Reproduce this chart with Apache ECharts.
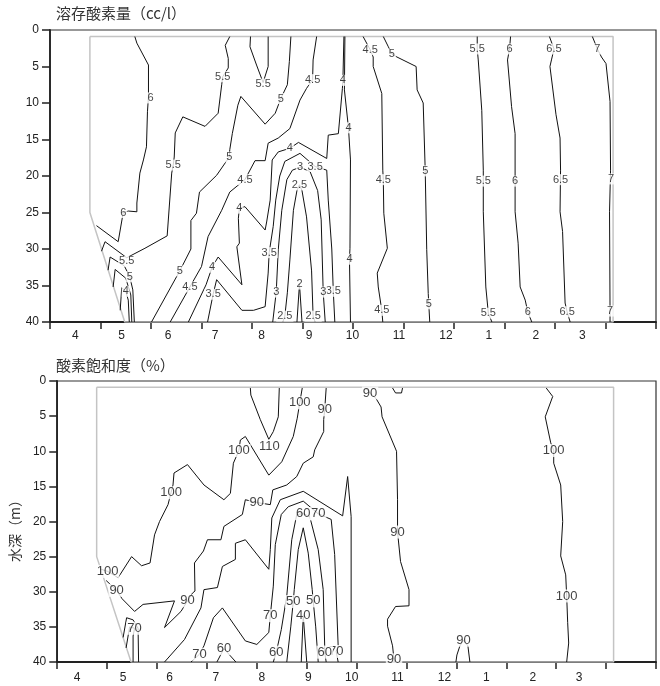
<!DOCTYPE html>
<html><head><meta charset="utf-8">
<script src="https://cdn.jsdelivr.net/npm/echarts@6/dist/echarts.min.js"></script>
<style>html,body{margin:0;padding:0;background:#fff}#c{width:660px;height:686px}</style>
</head><body><div id="c"></div>
<script>
// x in column units (0..12 = tick marks), y = depth (m)
const monthLabels = ['4','5','6','7','8','9','10','11','12','1','2','3'];
const topLabelPos = [0.50,1.42,2.34,3.27,4.19,5.13,5.99,6.91,7.84,8.69,9.62,10.54];
const botLabelPos = [0.40,1.32,2.25,3.18,4.10,5.03,5.90,6.82,7.76,8.60,9.53,10.46];
const columnTicks = [0,1,2,3,4,5,6,7,8,9,10,11,12];
const titles = ['溶存酸素量（cc/l）','酸素飽和度（%）'];
const depthName = '水深（m）';
const domain = [[0.79,0.9],[11.15,0.9],[11.15,40],[1.48,40],[0.79,25],[0.79,0.9]];

// ---- dissolved oxygen (cc/l) contours ----
const do6L = [[1.68,0.9],[1.72,1.8],[1.95,4.8],[1.95,9.1],[1.93,11.2],[1.91,16.0],[1.85,17.8],[1.78,19.6],[1.72,23.7],[1.72,24.9],[1.55,24.8],[1.45,25.0],[1.35,29.0],[0.92,26.8]];
const do55L = [[3.56,0.9],[3.47,2.1],[3.53,3.9],[3.53,5.2],[3.42,6.4],[3.40,7.5],[3.33,11.4],[3.07,13.2],[2.63,11.9],[2.48,14.1],[2.46,17.4],[2.44,18.5],[2.41,19.6],[2.32,28.2],[1.88,29.9],[1.52,31.2],[1.09,29.0],[1.02,30.3]];
const do55U = [[3.97,0.9],[3.96,2.3],[4.09,4.8],[4.22,7.2],[4.32,5.0],[4.32,0.9]];
const do5L = [[4.77,0.9],[4.74,4.3],[4.70,7.5],[4.57,9.4],[4.46,11.4],[4.26,12.9],[3.78,9.1],[3.72,10.3],[3.61,14.2],[3.56,16.4],[3.55,17.4],[3.51,17.8],[3.30,19.9],[2.96,22.2],[2.90,25.1],[2.79,26.1],[2.79,30.0],[2.71,31.1],[2.57,33.0],[2.01,40]];
const do5P = [[1.15,32.9],[1.19,31.1],[1.47,32.3],[1.58,33.8],[1.64,35.6],[1.67,40]];
const do45L = [[5.28,0.9],[5.21,4.1],[5.20,6.8],[5.08,8.0],[4.95,9.6],[4.75,13.5],[4.52,14.8],[4.32,15.5],[4.26,17.9],[4.06,17.9],[3.86,20.5],[3.56,22.2],[3.40,24.7],[3.13,28.3],[3.00,32.4],[2.77,35.2],[2.38,40]];
const do45P = [[1.25,35.2],[1.29,32.8],[1.50,34.0],[1.60,36.3],[1.62,40]];
const do4a = [[5.82,0.9],[5.80,6.9],[5.79,8.0],[5.71,14.2],[5.51,14.4],[5.48,17.6],[4.92,15.4],[4.75,16.2],[4.52,16.7],[4.40,17.8],[4.36,23.3],[4.29,26.3],[4.26,27.4],[3.86,24.2],[3.75,24.4],[3.73,25.8],[3.75,29.2],[3.70,29.7],[3.80,34.9],[3.33,31.1],[3.21,32.5],[3.09,34.9],[2.74,40]];
const do4b = [[5.84,0.9],[5.83,8.2],[5.91,13.4],[5.95,17.8],[5.94,29.9],[5.93,31.4],[5.95,40]];
const do4P = [[1.39,38.4],[1.42,35.3],[1.50,35.8],[1.55,37.0],[1.57,40]];
const do35 = [[3.12,40],[3.23,36.2],[3.30,34.2],[3.80,38.4],[4.03,38.4],[4.26,37.9],[4.32,33.3],[4.34,30.5],[4.42,26.9],[4.47,23.3],[4.55,20.0],[4.65,18.0],[4.95,16.9],[5.25,18.7],[5.48,19.2],[5.51,23.3],[5.58,30.0],[5.61,35.8],[5.64,40]];
const do3 = [[4.41,40],[4.48,35.9],[4.52,30.1],[4.59,24.7],[4.69,20.5],[4.80,19.2],[4.95,18.8],[5.15,19.4],[5.30,22.0],[5.37,26.0],[5.41,35.9],[5.45,40]];
const do25 = [[4.61,40],[4.65,39.2],[4.70,36.0],[4.75,31.5],[4.82,24.7],[4.89,22.0],[4.94,21.2],[4.99,22.0],[5.08,25.6],[5.18,33.0],[5.21,39.2],[5.25,40]];
const do2 = [[4.89,40],[4.94,34.8],[4.99,40]];
const do45R = [[6.20,0.9],[6.34,2.7],[6.40,3.7],[6.40,5.0],[6.57,8.7],[6.59,19.2],[6.60,20.5],[6.61,25.1],[6.68,29.9],[6.48,33.3],[6.50,35.2],[6.57,38.4],[6.59,40]];
const do5R = [[6.60,0.9],[6.70,2.3],[6.77,3.3],[6.87,3.7],[7.25,5.0],[7.27,8.2],[7.39,10.0],[7.43,19.2],[7.46,30.1],[7.49,36.1],[7.50,37.5],[7.52,40]];
const do55R = [[8.46,0.9],[8.46,2.6],[8.48,4.1],[8.55,11.0],[8.58,19.2],[8.58,24.9],[8.63,35.2],[8.68,38.8],[8.75,40]];
const do6R = [[9.12,0.9],[9.10,2.6],[9.06,4.1],[9.14,10.5],[9.21,14.2],[9.21,24.9],[9.27,29.2],[9.31,35.2],[9.41,37.0],[9.46,38.6],[9.54,40]];
const do65R = [[9.89,0.9],[9.98,2.6],[9.93,4.1],[9.90,5.0],[10.02,11.6],[10.10,14.8],[10.11,19.2],[10.10,24.9],[10.15,27.6],[10.20,37.4],[10.24,38.6],[10.30,40]];
const do7R = [[10.74,0.9],[10.84,2.6],[10.92,3.7],[11.01,4.6],[11.09,9.8],[11.10,19.2],[11.08,24.9],[11.09,38.5],[11.09,40]];
const doLabels = [
 [1.99,9.3,'6'],[1.45,25.0,'6'],
 [3.42,6.4,'5.5'],[2.44,18.5,'5.5'],[1.52,31.7,'5.5'],[4.22,7.4,'5.5'],
 [4.57,9.4,'5'],[3.55,17.4,'5'],[2.57,33.0,'5'],[1.58,33.8,'5'],
 [5.20,6.8,'4.5'],[3.86,20.5,'4.5'],[2.77,35.2,'4.5'],
 [5.80,6.9,'4'],[4.75,16.2,'4'],[3.75,24.4,'4'],[3.21,32.5,'4'],[5.91,13.4,'4'],[5.93,31.4,'4'],[1.50,35.8,'4'],
 [3.23,36.2,'3.5'],[4.34,30.5,'3.5'],[5.25,18.7,'3.5'],[5.61,35.8,'3.5'],
 [4.95,18.8,'3'],[4.48,35.9,'3'],[5.41,35.9,'3'],
 [4.94,21.2,'2.5'],[4.65,39.2,'2.5'],[5.21,39.2,'2.5'],
 [4.94,34.8,'2'],
 [6.34,2.7,'4.5'],[6.60,20.5,'4.5'],[6.57,38.4,'4.5'],
 [6.77,3.3,'5'],[7.43,19.3,'5'],[7.50,37.5,'5'],
 [8.46,2.6,'5.5'],[8.58,20.7,'5.5'],[8.68,38.8,'5.5'],
 [9.10,2.6,'6'],[9.21,20.7,'6'],[9.46,38.6,'6'],
 [9.98,2.6,'6.5'],[10.11,20.5,'6.5'],[10.24,38.6,'6.5'],
 [10.84,2.6,'7'],[11.11,20.4,'7'],[11.09,38.5,'7']
];

// ---- oxygen saturation (%) contours ----
const ds110 = [[3.87,1.0],[3.88,2.0],[4.07,5.5],[4.24,8.3],[4.33,7.2],[4.43,5.1],[4.45,1.0]];
const ds100M = [[4.91,1.0],[4.86,3.1],[4.81,5.3],[4.73,7.9],[4.50,11.5],[4.24,13.4],[3.77,7.9],[3.67,8.4],[3.64,9.9],[3.53,11.7],[3.47,16.0],[3.34,16.9],[2.94,14.8],[2.61,11.9],[2.34,13.1],[2.32,14.8],[2.28,15.9],[2.22,17.6],[2.05,20.0],[1.95,21.9],[1.86,25.9],[1.69,26.3],[1.49,25.0],[1.22,28.0],[1.01,27.1],[0.88,26.8]];
const ds90M = [[0.98,28.4],[1.19,29.8],[1.30,31.0],[1.55,32.8],[1.72,31.8],[2.35,31.3],[2.15,35.1],[2.48,32.8],[2.61,31.3],[2.71,30.2],[2.76,29.9],[2.75,25.9],[2.93,24.2],[3.01,22.6],[3.28,22.6],[3.34,20.7],[3.71,19.0],[3.77,16.9],[4.00,17.3],[4.27,17.6],[4.32,15.5],[4.60,14.8],[4.80,13.6],[4.93,11.7],[5.13,10.8],[5.16,9.8],[5.34,7.2],[5.34,5.5],[5.36,4.1],[5.39,1.0]];
const ds80 = [[2.15,40],[2.55,36.8],[2.88,32.3],[2.94,29.7],[3.21,29.4],[3.31,26.4],[3.57,25.4],[3.57,23.1],[3.77,22.6],[4.24,26.8],[4.27,24.0],[4.30,19.5],[4.47,16.9],[4.93,15.7],[5.72,19.2],[5.82,13.6],[5.89,19.3],[5.89,40]];
const ds70 = [[2.68,40],[2.85,38.9],[2.94,37.7],[3.13,33.7],[3.31,32.3],[3.77,37.0],[4.00,37.5],[4.24,35.8],[4.27,33.4],[4.33,29.2],[4.37,23.3],[4.49,19.0],[4.63,17.9],[4.93,17.1],[5.23,18.9],[5.49,19.7],[5.56,24.7],[5.63,37.7],[5.59,38.5],[5.63,40]];
const ds60 = [[4.33,40],[4.39,38.6],[4.49,35.4],[4.60,30.6],[4.70,22.6],[4.80,19.0],[4.93,18.9],[5.06,19.3],[5.23,24.0],[5.33,29.7],[5.36,37.7],[5.36,38.6],[5.39,40]];
const ds60s = [[3.20,40],[3.34,38.1],[3.58,40]];
const ds50 = [[4.60,40],[4.68,35.0],[4.73,31.4],[4.75,29.7],[4.83,24.0],[4.93,20.9],[5.03,24.5],[5.11,29.7],[5.13,31.3],[5.18,35.0],[5.23,40]];
const ds40 = [[4.89,40],[4.93,33.4],[5.00,40]];
const ds80P = [[1.32,36.5],[1.39,33.7],[1.52,34.0],[1.62,35.2],[1.63,40]];
const ds70P = [[1.38,38.0],[1.45,35.0],[1.55,35.2],[1.52,36.3],[1.52,40]];
const ds90R = [[6.18,1.0],[6.27,1.7],[6.39,2.5],[6.49,3.7],[6.51,5.1],[6.80,10.0],[6.82,16.9],[6.82,21.5],[6.88,25.7],[7.05,29.7],[7.05,32.0],[6.78,32.1],[6.62,33.9],[6.62,34.9],[6.72,37.7],[6.75,39.7],[6.76,40]];
const ds90Rb = [[6.72,1.0],[6.78,1.7],[6.90,1.7],[6.92,1.0]];
const ds90S = [[7.99,40],[8.01,39.0],[8.07,37.7],[8.14,36.9],[8.23,37.7],[8.27,40]];
const ds100R = [[9.80,1.0],[9.93,2.2],[9.78,5.1],[9.89,8.8],[9.95,9.9],[9.95,11.7],[10.09,14.8],[10.13,20.0],[10.09,24.9],[10.19,27.6],[10.21,30.6],[10.23,34.4],[10.25,37.3],[10.21,40]];
const dsLabels = [
 [4.25,9.3,'110'],
 [4.86,3.1,'100'],[3.64,9.9,'100'],[2.28,15.9,'100'],[1.01,27.1,'100'],[9.95,9.9,'100'],[10.21,30.6,'100'],
 [5.36,4.1,'90'],[4.00,17.3,'90'],[2.61,31.3,'90'],[1.19,29.8,'90'],[6.27,1.7,'90'],[6.82,21.5,'90'],[6.75,39.7,'90'],[8.14,36.9,'90'],
 [4.27,33.4,'70'],[5.23,18.9,'70'],[5.59,38.5,'70'],[2.85,38.9,'70'],[1.55,35.2,'70'],
 [4.93,18.9,'60'],[4.39,38.6,'60'],[5.36,38.6,'60'],[3.34,38.1,'60'],
 [4.73,31.4,'50'],[5.13,31.3,'50'],
 [4.93,33.4,'40']
];

const topLines = [do6L,do55L,do55U,do5L,do5P,do45L,do45P,do4a,do4b,do4P,do35,do3,do25,do2,do45R,do5R,do55R,do6R,do65R,do7R];
const botLines = [ds110,ds100M,ds90M,ds80,ds70,ds60,ds60s,ds50,ds40,ds80P,ds70P,ds90R,ds90Rb,ds90S,ds100R];

const NUMFONT = '"Liberation Sans", Arial, sans-serif';
const CJKFONT = '"Noto Sans CJK JP", "Noto Sans CJK SC", sans-serif';

function xAxisFor(g, pos, margin) {
  return {
    gridIndex: g, type: 'value', min: 0, max: 12, interval: 1,
    axisLine: { show: true, onZero: false, lineStyle: { color: '#222', width: 1.8 } },
    axisTick: { show: true, length: 7, customValues: columnTicks, lineStyle: { color: '#222', width: 1.5 } },
    axisLabel: {
      customValues: pos, margin: margin, fontSize: 12, color: '#222', fontFamily: NUMFONT,
      formatter: function (v) {
        for (let i = 0; i < pos.length; i++) if (Math.abs(pos[i] - v) < 1e-6) return monthLabels[i];
        return '';
      }
    },
    splitLine: { show: false }
  };
}
function yAxisFor(g, extra) {
  return Object.assign({
    gridIndex: g, type: 'value', inverse: true, min: 0, max: 40, interval: 5,
    axisLine: { show: true, onZero: false, lineStyle: { color: '#222', width: 1.8 } },
    axisTick: { show: true, length: 8, lineStyle: { color: '#222', width: 1.5 } },
    axisLabel: { margin: 11, fontSize: 12, color: '#222', fontFamily: NUMFONT },
    splitLine: { show: false }
  }, extra || {});
}
function lineSer(data, g) {
  return { type: 'line', xAxisIndex: g, yAxisIndex: g, data: data, symbol: 'none', showSymbol: false,
    lineStyle: { color: '#111', width: 1 }, silent: true, z: 3, animation: false };
}
function domainSer(g) {
  return { type: 'line', xAxisIndex: g, yAxisIndex: g, data: domain, symbol: 'none', showSymbol: false,
    lineStyle: { color: '#c4c4c4', width: 1.5 }, silent: true, z: 2, animation: false };
}
function labelSer(labels, g, font, size) {
  return { type: 'scatter', xAxisIndex: g, yAxisIndex: g, symbolSize: 1, silent: true, z: 6, animation: false,
    itemStyle: { color: 'rgba(0,0,0,0)' },
    data: labels.map(l => ({ value: [l[0], l[1]], name: l[2] })),
    label: { show: true, position: 'inside', formatter: p => p.name, fontSize: size, color: '#111',
      fontFamily: font, backgroundColor: '#fff', padding: [0, 1] } };
}

const series = [domainSer(0), domainSer(1)];
topLines.forEach(d => series.push(lineSer(d, 0)));
botLines.forEach(d => series.push(lineSer(d, 1)));
series.push(labelSer(doLabels, 0, NUMFONT, 11));
series.push(labelSer(dsLabels, 1, '"Liberation Sans Narrow", "Liberation Sans", Arial, sans-serif', 13));

const chart = echarts.init(document.getElementById('c'), null, { renderer: 'canvas' });
chart.setOption({
  animation: false,
  backgroundColor: '#fff',
  title: [
    { text: titles[0], left: 56, top: 6, padding: 0, textStyle: { fontSize: 15, fontWeight: 'normal', color: '#333', fontFamily: CJKFONT } },
    { text: titles[1], left: 56, top: 358, padding: 0, textStyle: { fontSize: 15, fontWeight: 'normal', color: '#333', fontFamily: CJKFONT } }
  ],
  grid: [
    { left: 50, right: 4, top: 30, height: 292, show: true, borderColor: '#333', borderWidth: 1.2, backgroundColor: 'transparent' },
    { left: 52, right: 4, top: 381, height: 281, show: true, borderColor: '#333', borderWidth: 1.2, backgroundColor: 'transparent' }
  ],
  xAxis: [xAxisFor(0, topLabelPos, 8), xAxisFor(1, botLabelPos, 10)],
  yAxis: [
    yAxisFor(0),
    yAxisFor(1, { name: depthName, nameLocation: 'middle', nameRotate: 90, nameGap: 26,
      nameTextStyle: { fontSize: 14, color: '#333', fontFamily: CJKFONT, padding: [0, 12, 0, 0] } })
  ],
  series: series
});
</script></body></html>
